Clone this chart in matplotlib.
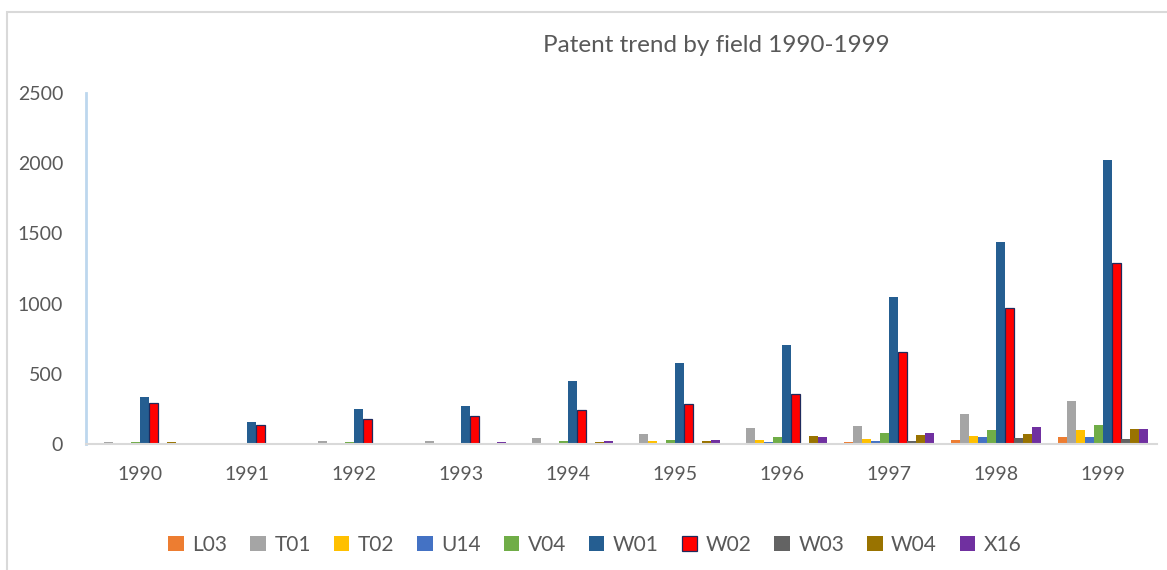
import matplotlib.pyplot as plt
import numpy as np
from matplotlib.patches import Patch, Rectangle

years = ["1990", "1991", "1992", "1993", "1994", "1995", "1996", "1997", "1998", "1999"]
fields = ["L03", "T01", "T02", "U14", "V04", "W01", "W02", "W03", "W04", "X16"]

L03 = [0, 0, 0, 2, 2, 5, 5, 14, 28, 47]
T01 = [14, 0, 21, 21, 40, 71, 112, 130, 216, 304]
T02 = [3, 0, 2, 0, 2, 21, 28, 33, 59, 97]
U14 = [0, 0, 0, 0, 2, 5, 14, 21, 50, 50]
V04 = [14, 5, 14, 2, 21, 28, 50, 78, 100, 135]
W01 = [336, 154, 247, 273, 446, 575, 703, 1047, 1438, 2020]
W02 = [290, 135, 176, 199, 244, 285, 356, 657, 966, 1287]
W03 = [5, 0, 0, 3, 5, 5, 5, 21, 40, 33]
W04 = [14, 0, 0, 3, 14, 21, 57, 64, 71, 104]
X16 = [0, 0, 5, 14, 21, 28, 47, 78, 119, 104]

series = [L03, T01, T02, U14, V04, W01, W02, W03, W04, X16]
colors = ["#ED7D31", "#A5A5A5", "#FFC000", "#4472C4", "#70AD47",
          "#255E91", "#FF0000", "#636363", "#997300", "#7030A0"]

plt.rcParams["font.family"] = ["Lato", "DejaVu Sans"]
TXT = "#595959"

fig = plt.figure(figsize=(11.67, 5.70), dpi=100)
ax = fig.add_axes([86 / 1167, 1 - 444 / 570, 1071 / 1167, 351 / 570])

x = np.arange(len(years))
bw = 0.084
for i, (vals, c) in enumerate(zip(series, colors)):
    off = (i - 4.5) * bw
    if fields[i] == "W02":
        ax.bar(x + off, vals, bw, color=c, edgecolor="#1F2A5C", linewidth=0.9)
    else:
        ax.bar(x + off, vals, bw, color=c, linewidth=0)

ax.set_xlim(-0.5, len(years) - 0.5)
ax.set_ylim(0, 2500)
ax.set_yticks([0, 500, 1000, 1500, 2000, 2500])
ax.set_xticks(x)
ax.set_xticklabels(years)
ax.tick_params(axis="both", length=0, labelsize=14, colors=TXT)
ax.tick_params(axis="y", pad=16.5)
ax.tick_params(axis="x", pad=16)
for s in ["top", "right"]:
    ax.spines[s].set_visible(False)
ax.spines["left"].set_color("#BDD7EE")
ax.spines["left"].set_linewidth(2)
ax.spines["bottom"].set_color("#D9D9D9")
ax.spines["bottom"].set_linewidth(1.5)

fig.text(716 / 1167, 1 - 45 / 570, "Patent trend by field 1990-1999",
         ha="center", va="center", fontsize=17.5, color=TXT)

# outer chart frame
fig.patches.append(Rectangle((7 / 1167, -0.1), 1.2, 1 - 12 / 570 + 0.1,
                             transform=fig.transFigure, fill=False,
                             edgecolor="#D9D9D9", linewidth=1.5))

handles = []
for f, c in zip(fields, colors):
    if f == "W02":
        handles.append(Patch(facecolor=c, edgecolor="#1F2A5C", linewidth=0.9, label=f))
    else:
        handles.append(Patch(facecolor=c, edgecolor="none", label=f))
fig.legend(handles=handles, loc="center", bbox_to_anchor=(595 / 1167, 1 - 545 / 570),
           ncol=10, frameon=False, fontsize=15, labelcolor=TXT,
           handlelength=0.75, handleheight=0.7, handletextpad=0.4,
           columnspacing=1.1, borderpad=0)

fig.savefig("out.png", dpi=100)
